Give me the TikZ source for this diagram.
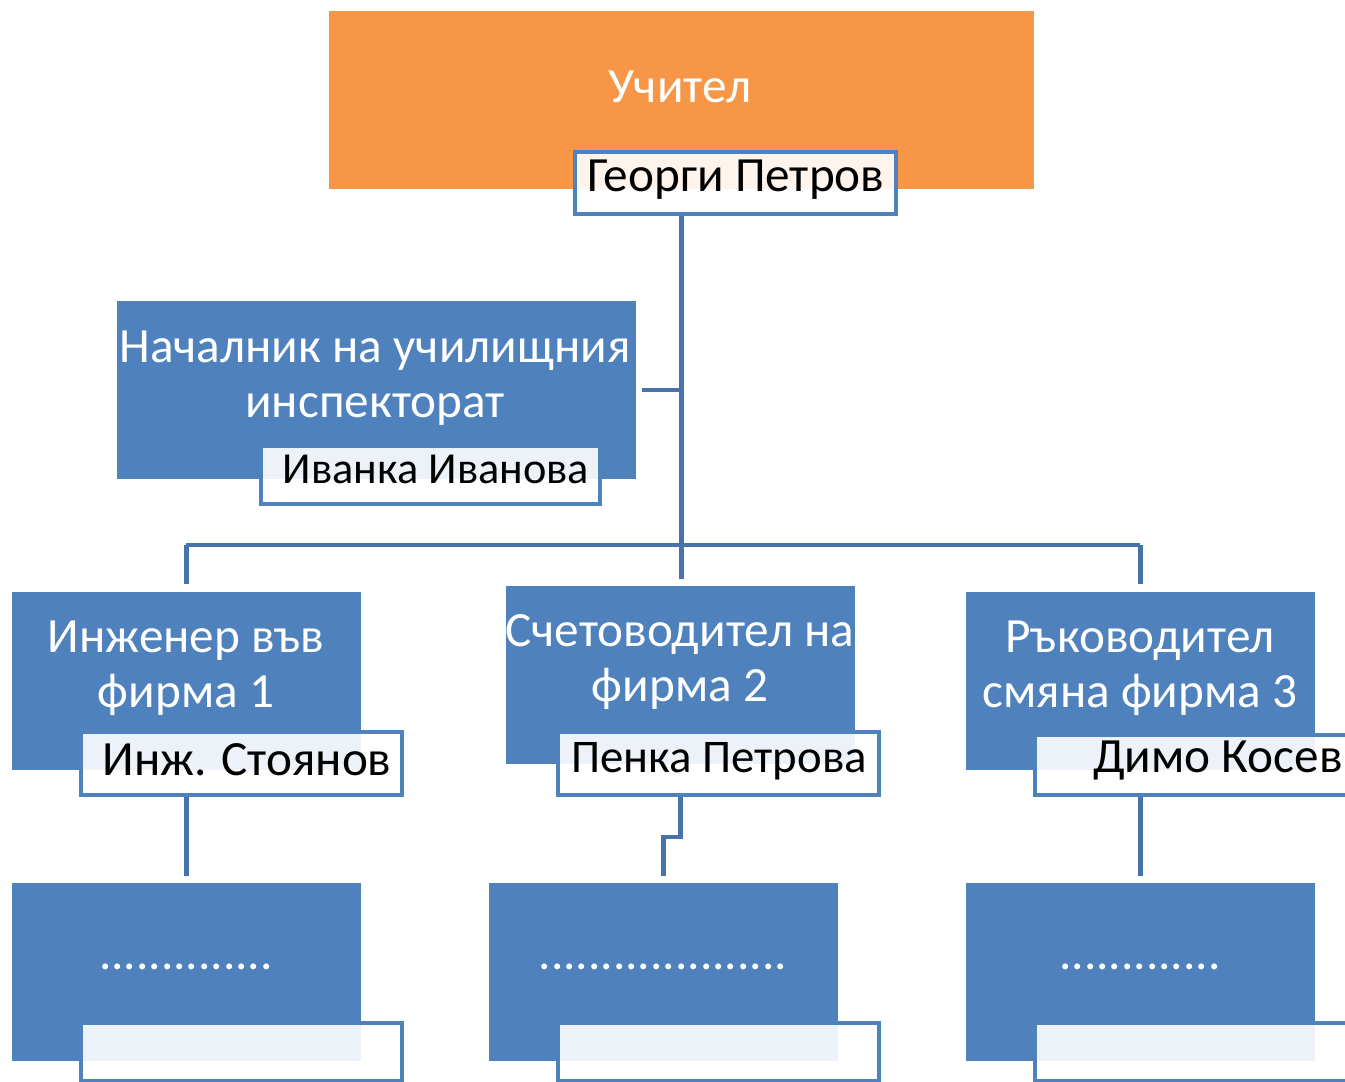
\documentclass[tikz,border=0pt]{standalone}
\usepackage{fontspec}
\setmainfont{Carlito}
\definecolor{orgorange}{RGB}{247,150,70}
\definecolor{orgblue}{RGB}{79,129,189}
\definecolor{orgline}{RGB}{70,115,170}
\tikzset{
  rolebox/.style={fill=orgblue, draw=none, anchor=north west, minimum width=3.49cm, minimum height=1.78cm, inner sep=0pt},
  namebox/.style={draw=orgblue, line width=0.04cm, fill=white, fill opacity=0.9, text opacity=1, anchor=north west, minimum width=3.21cm, minimum height=0.62cm, inner sep=0pt},
  roletext/.style={text=white, font=\fontsize{14}{15.6}\selectfont, align=center},
  nametext/.style={text=black, font=\fontsize{14}{15.6}\selectfont},
  conn/.style={draw=orgline, line width=0.045cm}
}
\begin{document}
\begin{tikzpicture}[x=0.01cm, y=-0.01cm]
\useasboundingbox (0,0) rectangle (1345,1082);
\clip (0,0) rectangle (1345,1082);

% Top
\node[rolebox, fill=orgorange, minimum width=7.05cm] (teacher) at (328,10) {};
\node[roletext] (teacher-t) at (680,87) {Учител};
\node[namebox] (petrov) at (573,150) {};
\node[nametext] (petrov-t) at (736,180) {Георги Петров};

% Assistant
\node[rolebox, minimum width=5.19cm] (chief) at (116,300) {};
\node[roletext] (chief-t) at (375,378) {Началник на училищния\\инспекторат};
\node[namebox, minimum width=3.39cm, minimum height=0.58cm] (ivanova) at (259,444) {};
\node[nametext, font=\fontsize{12.6}{15}\selectfont] (ivanova-t) at (436,469) {Иванка Иванова};

% Second level
\node[rolebox] (engineer) at (11,591) {};
\node[roletext] (engineer-t) at (186,668) {Инженер във\\фирма 1};
\node[namebox, minimum height=0.63cm] (stoyanov) at (79,730) {};
\node[nametext] (stoyanov-t) at (247,760) {Инж. Стоянов};

\node[rolebox] (account) at (505,585) {};
\node[roletext] (account-t) at (680,662) {Счетоводител на\\фирма 2};
\node[namebox, minimum height=0.63cm] (petrova) at (556,730) {};
\node[nametext, font=\fontsize{13.3}{15}\selectfont] (petrova-t) at (719,761) {Пенка Петрова};

\node[rolebox] (shift) at (965,591) {};
\node[roletext] (shift-t) at (1140,668) {Ръководител\\смяна фирма 3};
\node[namebox, minimum height=0.60cm] (kosev) at (1033,733) {};
\node[nametext] (kosev-t) at (1218,761) {Димо Косев};

% Third level
\node[rolebox] (sub1) at (11,882) {};
\node[roletext] (sub1-t) at (186,967) {..............};
\node[namebox, minimum height=0.58cm] (sub1-n) at (79,1021) {};

\node[rolebox] (sub2) at (488,882) {};
\node[roletext] (sub2-t) at (663,967) {....................};
\node[namebox, minimum height=0.58cm] (sub2-n) at (556,1021) {};

\node[rolebox] (sub3) at (965,882) {};
\node[roletext] (sub3-t) at (1140,967) {.............};
\node[namebox, minimum height=0.58cm] (sub3-n) at (1033,1021) {};

% Connectors
\coordinate (bus) at (680,545);
\draw[conn, shorten >=0.06cm] (teacher.south |- petrov.south) -- (teacher.south |- account.north);
\draw[conn, shorten <=0.05cm] (chief.east) -- (chief.east -| teacher.south);
\draw[conn] (engineer.north |- bus) -- (shift.north |- bus);
\draw[conn, shorten >=0.07cm] (engineer.north |- bus) -- (engineer.north);
\draw[conn, shorten >=0.07cm] (shift.north |- bus) -- (shift.north);
\draw[conn, shorten >=0.06cm] (engineer.south |- stoyanov.south) -- (sub1.north);
\draw[conn, shorten >=0.06cm] (account.south |- petrova.south) -- ++(0,40) -| (sub2.north);
\draw[conn, shorten >=0.06cm] (shift.south |- kosev.south) -- (sub3.north);
\end{tikzpicture}
\end{document}
